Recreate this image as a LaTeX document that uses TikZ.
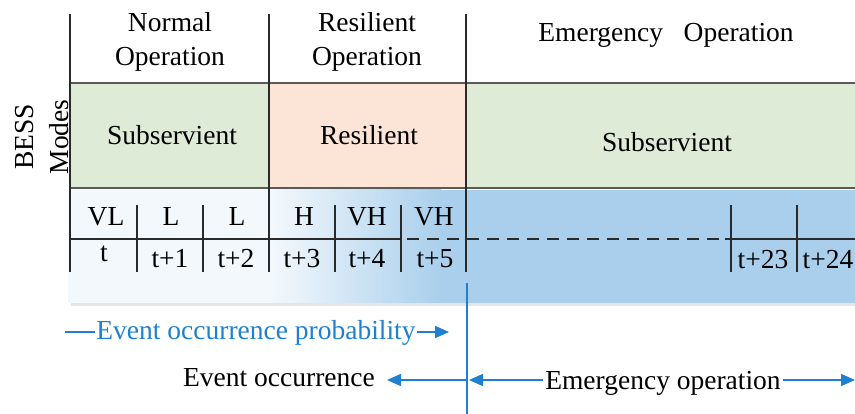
\documentclass[tikz,border=0pt]{standalone}
\usepackage{fontspec}
\setmainfont{Liberation Serif}
\usetikzlibrary{arrows.meta}
\definecolor{modegreen}{HTML}{DEEBD6}
\definecolor{modeorange}{HTML}{FCE4D6}
\definecolor{panelblue}{HTML}{A9CFEC}
\definecolor{panellight}{HTML}{F3F8FC}
\definecolor{lineblue}{HTML}{1E80D0}
\definecolor{bordergray}{HTML}{5A5A5A}
\definecolor{gridblack}{HTML}{2A2A2A}
\begin{document}
\begin{tikzpicture}[x=1pt,y=-1pt,
  font=\fontsize{27.5}{32}\selectfont,
  txt/.style={inner sep=0pt, anchor=base},
  modebox/.style={inner sep=0pt, minimum height=105pt, anchor=north west},
  gridline/.style={draw=gridblack, line width=1.6pt},
  borderline/.style={draw=bordergray, line width=2.2pt},
  blueline/.style={draw=lineblue, line width=1.6pt},
  tip/.style={-{Triangle[length=14pt,width=12pt]}},
  rtip/.style={{Triangle[length=14pt,width=12pt]}-}]
\useasboundingbox (0,0) rectangle (855,414);

% mode row fills
\node[modebox, fill=modegreen, minimum width=199pt] (mbox1) at (70,83) {};
\node[modebox, fill=modeorange, minimum width=197pt] (mbox2) at (269,83) {};
\node[modebox, fill=modegreen, minimum width=389pt] (mbox3) at (466,83) {};

% blue panel with shadow
\fill[black!10] (71,193) rectangle (855,306);
\fill[panellight] (68,190) rectangle (272,303);
\shade[left color=panellight, right color=panelblue] (271,190) rectangle (441,303);
\fill[panelblue] (440,190) rectangle (855,303);

% mode row borders
\draw[borderline] (70,83) -- (855,83);
\draw[borderline] (70,188) -- (855,188);

% main vertical lines
\draw[gridline] (70,14) -- (70,272);
\draw[gridline] (269,14) -- (269,272);
\draw[gridline] (466,14) -- (466,272);
% inner cell lines
\foreach \x in {137,203,335,401,731,797}
  \draw[gridline] (\x,205) -- (\x,272);
% horizontal row divider
\draw[gridline] (70,239) -- (401,239);
\draw[gridline, dash pattern=on 12pt off 8pt] (407,239) -- (725,239);
\draw[gridline] (725,239) -- (855,239);

% header texts
\node[txt] (h1a) at (170,32) {Normal};
\node[txt] (h1b) at (170,66) {Operation};
\node[txt] (h2a) at (367,32) {Resilient};
\node[txt] (h2b) at (367,66) {Operation};
\node[txt] (h3) at (666,42) {Emergency\hspace{0.5em} Operation};

% BESS Modes
\node[rotate=90, align=center, inner sep=0pt, font=\fontsize{27.5}{35}\selectfont] (bess) at (42,137) {BESS\\Modes};

% mode labels
\node[txt] (ml1) at (172,145) {Subservient};
\node[txt] (ml2) at (369,145) {Resilient};
\node[txt] (ml3) at (667,152) {Subservient};

% level row
\node[txt] (l1) at (106,226) {VL};
\node[txt] (l2) at (171,226) {L};
\node[txt] (l3) at (237,226) {L};
\node[txt] (l4) at (304,226) {H};
\node[txt] (l5) at (367,226) {VH};
\node[txt] (l6) at (434,226) {VH};

% time row
\node[txt] (t0) at (104,262) {t};
\node[txt] (t1) at (170,268) {t+1};
\node[txt] (t2) at (236,268) {t+2};
\node[txt] (t3) at (302,268) {t+3};
\node[txt] (t4) at (367,268) {t+4};
\node[txt] (t5) at (435,268) {t+5};
\node[txt] (t23) at (763,269) {t+23};
\node[txt] (t24) at (828,269) {t+24};

% event marker line
\coordinate (evtop) at (467,283);
\coordinate (evbot) at (467,414);
\draw[blueline] (evtop) -- (evbot);

% event occurrence probability
\node[txt, text=lineblue, inner xsep=1pt] (prob) at (256,340) {Event occurrence probability};
\coordinate (pstart) at (65,332);
\coordinate (pend) at (449,332);
\draw[blueline] (pstart) -- (prob.west |- pstart);
\draw[blueline, tip] (prob.east |- pend) -- (pend);

% event occurrence / emergency operation
\node[txt] (evocc) at (279,387) {Event occurrence};
\node[txt, fill=white, inner xsep=2pt, inner ysep=2pt] (emop) at (663,389) {Emergency operation};
\coordinate (evsplit) at (467,380);
\coordinate (evleft) at (387,380);
\coordinate (emright) at (855,380);
\draw[blueline, tip] (evsplit) -- (evleft);
\draw[blueline, rtip] (469,380) -- (emop.west |- evsplit);
\draw[blueline, tip] (emop.east |- evsplit) -- (emright);
\end{tikzpicture}
\end{document}
